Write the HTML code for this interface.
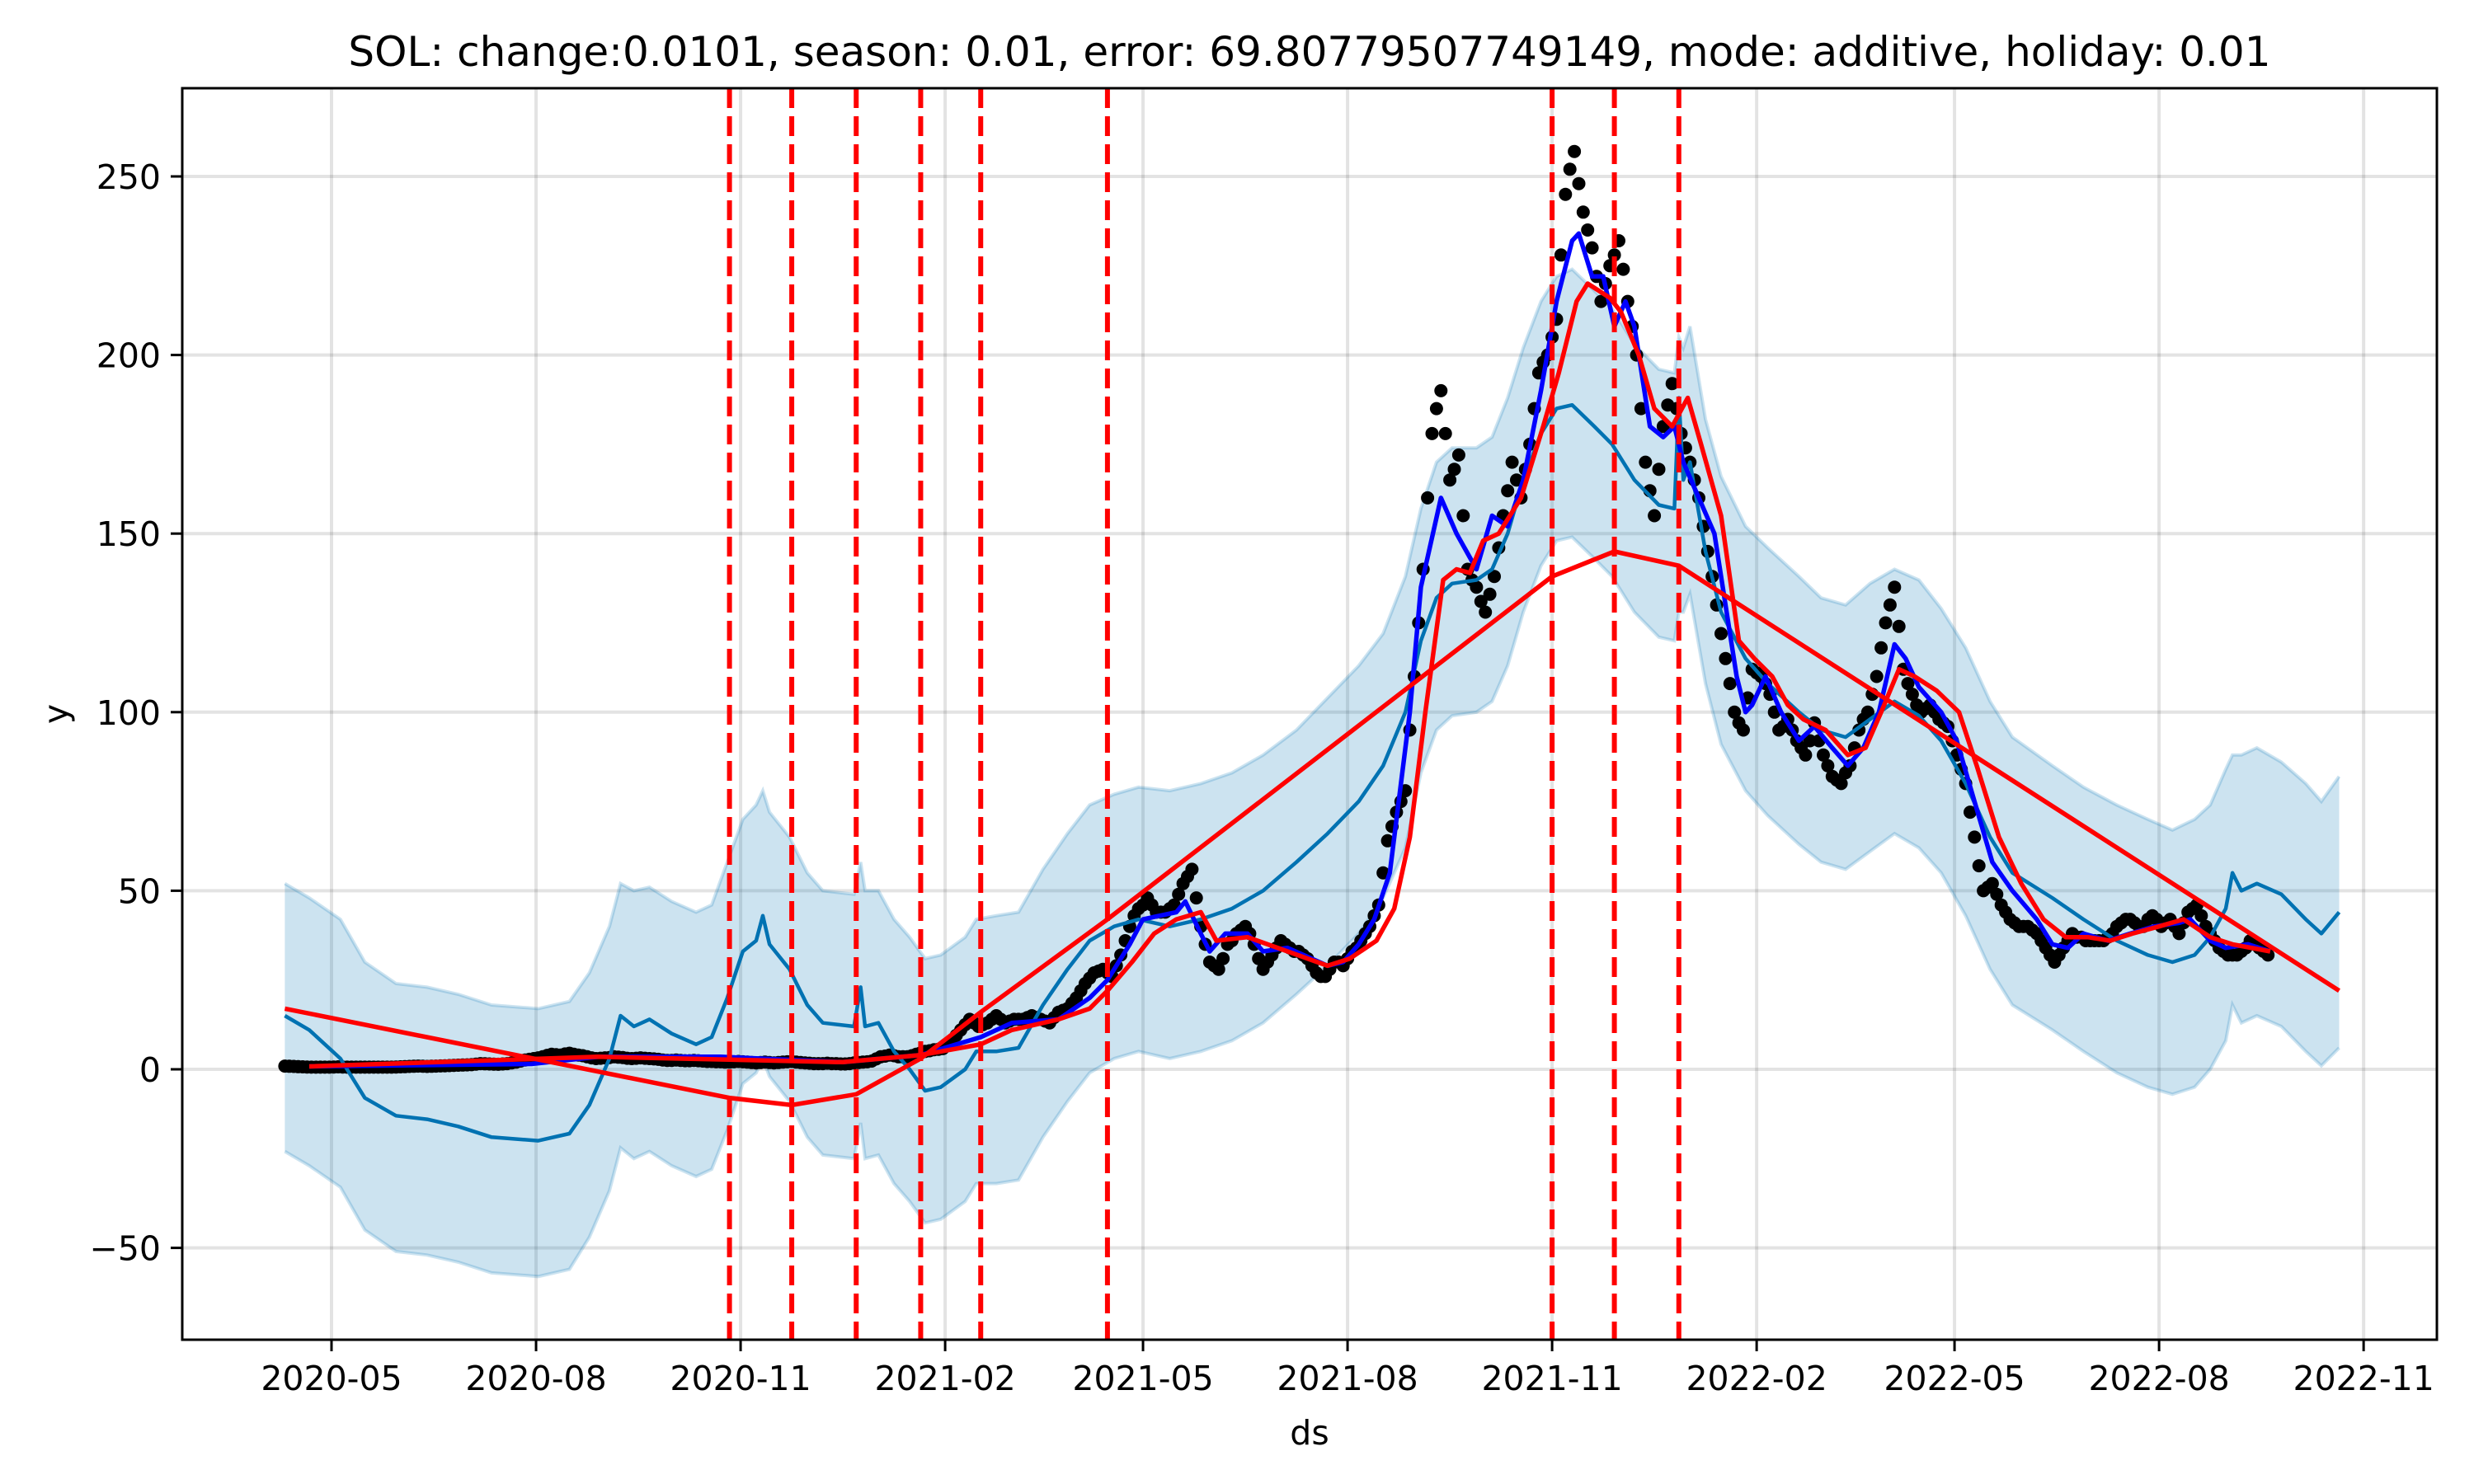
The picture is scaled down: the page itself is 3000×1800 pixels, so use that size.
<!DOCTYPE html>
<html><head><meta charset="utf-8">
<style>
html,body{margin:0;padding:0;background:#fff;}
svg{display:block;font-family:"DejaVu Sans","Liberation Sans",sans-serif;}
</style></head>
<body>
<svg id="chart" width="3000" height="1800" viewBox="0 0 3000 1800" xmlns="http://www.w3.org/2000/svg">
<defs><clipPath id="plotclip"><rect x="221" y="107" width="2734" height="1518"/></clipPath></defs>
<rect x="0" y="0" width="3000" height="1800" fill="#fff"/>
<text x="1588" y="80" font-size="50" text-anchor="middle">SOL: change:0.0101, season: 0.01, error: 69.80779507749149, mode: additive, holiday: 0.01</text>
<g id="grid"></g>
<g id="plot" clip-path="url(#plotclip)"></g>
<g id="axes"></g>
<text x="1588" y="1752" font-size="41" text-anchor="middle">ds</text>
<text x="0" y="0" font-size="41" text-anchor="middle" transform="translate(82,866) rotate(-90)">y</text>
</svg>
<script>
// ---- data (days since 2020-05-01) ----
const xTickLabels = ["2020-05","2020-08","2020-11","2021-02","2021-05","2021-08","2021-11","2022-02","2022-05","2022-08","2022-11"];
const xTickDays = [0,92,184,276,365,457,549,641,730,822,914];
const yTickValues = [-50,0,50,100,150,200,250];
const changepointDays = [179,207,236,265,292,349,549,577,606];

const trendDays = [-21,179,207,236,265,292,349,549,577,606,903];
const trendValues = [17,-8,-10,-7,3,16,42,138,145,141,22];

const priceStartDay = -21;
const priceStep = 4;
const priceValues = [
0.9,0.8,0.7,0.6,0.6,0.6,0.7,0.6,0.6,0.6,
0.6,0.6,0.6,0.7,0.8,0.9,0.8,0.9,1.0,1.1,
1.2,1.3,1.6,1.5,1.4,1.6,2.0,2.6,3.0,3.5,
4.2,4.0,4.5,4.0,3.5,3.0,3.2,3.5,3.3,3.0,
3.2,3.0,2.8,2.5,2.6,2.4,2.5,2.3,2.2,2.1,
2.0,2.2,2.0,1.8,2.0,1.8,2.0,2.2,1.9,1.7,
1.6,1.7,1.6,1.5,1.8,2.0,2.3,3.5,4.0,3.5,
3.5,4.2,5.0,5.5,5.8,8,11,14,12,13,
15,13,14,14,15,14,13,16,17,20,
24,27,28,26,32,40,45,48,44,44,
46,52,56,40,30,28,35,38,40,35,
28,32,36,34,33,31,27,26,30,29,
33,36,40,46,64,72,78,110,140,178,
190,165,172,140,135,128,138,155,170,160,
175,195,200,210,245,257,240,230,215,225,
232,215,200,170,155,180,192,178,170,160,
145,130,115,100,95,112,110,105,95,98,
92,88,97,88,82,80,85,95,100,110,
125,135,112,105,100,102,98,96,88,80,
65,50,52,46,42,40,40,38,34,30,
34,38,37,36,36,37,40,42,41,40,
43,40,42,38,44,46,40,36,33,32,
33,36,34,32];
const priceMidStartDay = -19;
const priceMidValues = [
0.85,0.75,0.65,0.6,0.6,0.65,0.65,0.6,0.6,0.6,
0.6,0.6,0.65,0.75,0.85,0.85,0.85,0.95,1.05,1.15,
1.25,1.45,1.55,1.45,1.5,1.8,2.3,2.8,3.2,3.9,
4.1,4.3,4.2,3.8,3.2,3.1,3.3,3.4,3.1,3.1,
3.1,2.9,2.6,2.5,2.5,2.4,2.4,2.2,2.1,2.0,
2.1,2.1,1.9,1.9,1.9,1.9,2.1,2.0,1.8,1.6,
1.6,1.6,1.5,1.6,1.9,2.1,2.9,3.7,3.8,3.5,
3.8,4.6,5.2,5.6,6.8,9.5,12.5,13,12.5,14,
14,13.5,14,14.5,14.5,13.5,14.5,16.5,18.5,22,
25.5,27.5,27,29,36,43,46,46,44,45,
49,54,48,35,29,31,36,39,38,31,
30,34,35,33,32,29,26,28,30,31,
34,38,43,55,68,75,95,125,160,185,
178,168,155,137,131,133,146,162,165,168,
185,198,205,228,252,248,235,222,220,228,
224,208,185,162,168,186,185,174,165,152,
138,122,108,97,104,111,108,100,96,95,
90,92,92,85,81,83,90,98,105,118,
130,124,108,102,101,100,97,92,84,72,
57,51,49,44,41,40,39,36,32,32,
36,37,36,36,36,38,41,42,40,42,
42,41,40,41,45,43,38,34,32,32,
34,35,33];

const yhatDays = [-21,-10,4,15,29,43,57,72,93,107,116,125,130,136,143,153,164,171,178,185,191,194,197,206,214,221,235,238,240,246,253,260,267,274,285,290,299,309,320,331,341,352,363,377,391,405,419,434,448,462,473,483,490,497,504,515,522,529,536,544,551,558,568,576,586,597,604,606,608,611,618,625,636,646,660,670,681,692,703,714,724,735,746,756,774,788,803,817,828,838,845,852,855,859,866,877,888,895,903];
const yhatValues = [15,11,3,-8,-13,-14,-16,-19,-20,-18,-10,3,15,12,14,10,7,9,20,33,36,43,35,28,18,13,12,23,12,13,5,0,-6,-5,0,5,5,6,18,28,36,40,42,40,42,45,50,58,66,75,85,100,120,132,136,137,140,150,165,178,185,186,180,175,165,158,157,188,165,170,145,128,115,108,100,95,93,98,103,99,92,80,65,55,48,42,36,32,30,32,37,45,55,50,52,49,42,38,44];
const upperValues = [52,48,42,30,24,23,21,18,17,19,27,40,52,50,51,47,44,46,58,70,74,78,72,65,55,50,49,58,50,50,42,37,31,32,37,42,43,44,56,66,74,77,79,78,80,83,88,95,104,113,122,138,157,170,174,174,177,188,202,215,222,224,218,213,203,196,195,205,202,208,182,166,152,146,138,132,130,136,140,137,129,118,103,93,85,79,74,70,67,70,74,84,88,88,90,86,80,75,82];
const lowerValues = [-23,-27,-33,-45,-51,-52,-54,-57,-58,-56,-47,-34,-22,-25,-23,-27,-30,-28,-17,-4,-1,3,-2,-9,-19,-24,-25,-15,-25,-24,-32,-37,-43,-42,-37,-32,-32,-31,-19,-9,-1,3,5,3,5,8,13,21,29,38,48,62,83,95,99,100,103,113,128,141,148,149,143,138,128,121,120,128,128,133,108,91,78,71,63,58,56,61,66,62,55,43,28,18,11,5,-1,-5,-7,-5,0,8,18,13,15,12,5,1,6];

const blueDays = [-10,90,120,175,230,265,292,306,327,341,349,359,365,380,384,391,395,402,412,419,430,448,455,462,469,476,485,490,499,506,515,522,529,536,544,551,558,561,567,572,577,582,586,593,599,604,608,615,622,632,636,639,645,652,660,667,675,682,689,696,703,708,714,724,731,739,747,756,767,774,781,788,799,809,820,831,836,845,852,862,872];
const blueValues = [0.8,1.5,3.5,3.5,2,4,9,13,14,20,25,35,42,44,47,38,33,38,38,33,34,29,30,35,42,55,100,135,160,150,140,155,152,165,190,215,232,234,222,222,208,215,208,180,177,180,170,160,150,110,100,102,110,100,92,96,90,85,90,100,119,115,107,100,92,75,58,50,42,35,34,38,36,38,40,41,42,36,34,35,33];

const avgDays = [-10,120,230,265,292,306,327,341,349,360,370,380,391,398,412,430,448,458,470,478,485,492,500,506,512,518,525,535,545,552,560,565,570,575,580,588,595,603,610,616,625,633,640,648,655,662,672,682,690,697,705,712,722,732,740,750,760,770,780,790,800,810,822,833,845,855,872];
const avgValues = [0.8,3.5,2,4,7,11,14,17,22,30,38,42,44,36,37,33,29,31,36,45,65,100,137,140,139,148,150,160,180,195,215,220,218,216,212,200,185,180,188,175,155,120,115,110,102,98,95,88,90,100,112,110,106,100,85,65,52,42,37,37,36,38,40,42,37,35,33];

// ---- scales ----
const X0 = 402, PXD = 2.696, Y0 = 1297, PXV = 4.332;
function xs(d){ return X0 + d*PXD; }
function ys(v){ return Y0 - v*PXV; }
const NS = "http://www.w3.org/2000/svg";
function mk(tag, attrs, parent){
  const e = document.createElementNS(NS, tag);
  for (const k in attrs) e.setAttribute(k, attrs[k]);
  parent.appendChild(e); return e;
}
function pathFrom(days, vals){
  return days.map((d,i)=>(i?"L":"M")+xs(d).toFixed(1)+","+ys(vals[i]).toFixed(1)).join("");
}
const grid = document.getElementById("grid");
const plot = document.getElementById("plot");
const axes = document.getElementById("axes");

xTickDays.forEach((d,i)=>{
  const l = mk("line",{x1:xs(d),x2:xs(d),y1:107,y2:1625,stroke:"rgba(0,0,0,0.11)","stroke-width":4},grid);
  
  
});
yTickValues.forEach(v=>{
  const l = mk("line",{x1:221,x2:2955,y1:ys(v),y2:ys(v),stroke:"rgba(0,0,0,0.11)","stroke-width":4},grid);
  
  
});

let bandD = pathFrom(yhatDays, upperValues);
for (let i=yhatDays.length-1;i>=0;i--) bandD += "L"+xs(yhatDays[i]).toFixed(1)+","+ys(lowerValues[i]).toFixed(1);
bandD += "Z";
const band = mk("path",{d:bandD,fill:"#0072B2","fill-opacity":0.2,stroke:"none"},plot);


const up = mk("path",{d:pathFrom(yhatDays,upperValues),fill:"none",stroke:"#0072B2","stroke-opacity":0.2,"stroke-width":4},plot);


const lo = mk("path",{d:pathFrom(yhatDays,lowerValues),fill:"none",stroke:"#0072B2","stroke-opacity":0.2,"stroke-width":4},plot);



const dots = mk("g",{fill:"#000"},plot);


priceValues.forEach((v,i)=>{
  const c = mk("circle",{cx:xs(priceStartDay+i*priceStep).toFixed(1),cy:ys(v).toFixed(1),r:8},dots);
  
  
});
priceMidValues.forEach((v,i)=>{
  const c = mk("circle",{cx:xs(priceMidStartDay+i*priceStep).toFixed(1),cy:ys(v).toFixed(1),r:8},dots);
  
  
});

const yh = mk("path",{d:pathFrom(yhatDays,yhatValues),fill:"none",stroke:"#0072B2","stroke-width":4.5,"stroke-linejoin":"round"},plot);



const bl = mk("path",{d:pathFrom(blueDays,blueValues),fill:"none",stroke:"#0000ff","stroke-width":5.5,"stroke-linejoin":"round"},plot);



const av = mk("path",{d:pathFrom(avgDays,avgValues),fill:"none",stroke:"#ff0000","stroke-width":5.5,"stroke-linejoin":"round"},plot);



const tr = mk("path",{d:pathFrom(trendDays,trendValues),fill:"none",stroke:"#ff0000","stroke-width":5.5},plot);



changepointDays.forEach(d=>{
  const l = mk("line",{x1:xs(d),x2:xs(d),y1:107,y2:1625,stroke:"#ff0000","stroke-width":6,"stroke-dasharray":"24,10"},plot);
  
  
});

const frame = mk("rect",{x:221,y:107,width:2734,height:1518,fill:"none",stroke:"#000","stroke-width":3},axes);



xTickDays.forEach((d,i)=>{
  const t = mk("line",{x1:xs(d),x2:xs(d),y1:1625,y2:1639,stroke:"#000","stroke-width":3},axes);
  
  
  const tx = mk("text",{x:xs(d),y:1686,"font-size":41,"text-anchor":"middle"},axes);
  tx.textContent = xTickLabels[i];
  
  
});
yTickValues.forEach(v=>{
  const t = mk("line",{x1:207,x2:221,y1:ys(v),y2:ys(v),stroke:"#000","stroke-width":3},axes);
  
  
  const tx = mk("text",{x:195,y:ys(v)+15,"font-size":41,"text-anchor":"end"},axes);
  tx.textContent = v<0 ? "\u2212"+Math.abs(v) : String(v);
  
  
});
</script>
</body></html>
